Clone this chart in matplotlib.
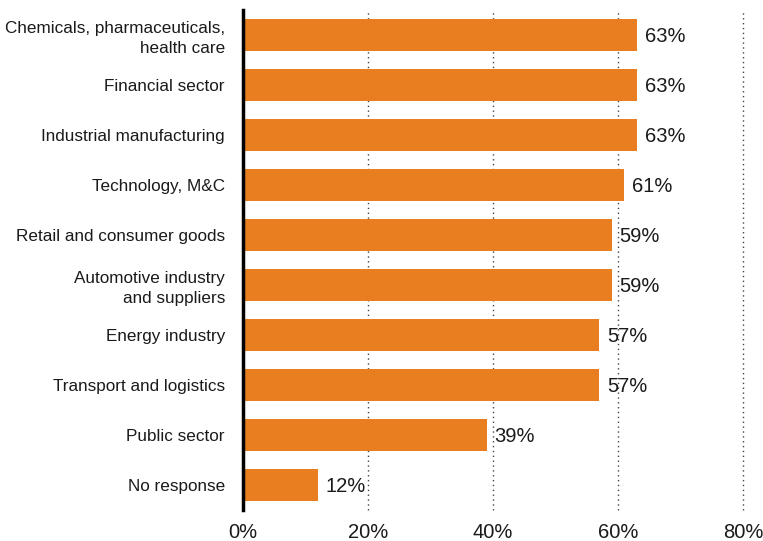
import matplotlib
matplotlib.use("Agg")
import matplotlib.pyplot as plt
from matplotlib.ticker import FuncFormatter

plt.rcParams['font.family'] = ['Liberation Sans', 'DejaVu Sans']

categories = [
    "Chemicals, pharmaceuticals,\nhealth care",
    "Financial sector",
    "Industrial manufacturing",
    "Technology, M&C",
    "Retail and consumer goods",
    "Automotive industry\nand suppliers",
    "Energy industry",
    "Transport and logistics",
    "Public sector",
    "No response",
]
values = [63, 63, 63, 61, 59, 59, 57, 57, 39, 12]
x_ticks = [0, 20, 40, 60, 80]

bar_color = "#E87E1F"
text_color = "#1a1a1a"

fig = plt.figure(figsize=(7.63, 5.41), dpi=100)
ax = fig.add_axes([243 / 763, 1 - 510 / 541, 500 / 763, 500 / 541])

y = list(range(len(categories)))
ax.barh(y, values, height=0.64, color=bar_color, zorder=2)

for yi, v in zip(y, values):
    ax.text(v + 1.25, yi, f"{v}%", va="center_baseline", ha="left",
            fontsize=14.5, color=text_color)

ax.set_ylim(len(categories) - 0.5, -0.5)
ax.set_xlim(0, 80)
ax.set_yticks(y)
ax.set_yticklabels(categories, fontsize=12.3, color=text_color, linespacing=1.35)
ax.set_xticks(x_ticks)
ax.xaxis.set_major_formatter(FuncFormatter(lambda v, p: f"{int(v)}%"))
ax.tick_params(axis="x", length=0, labelsize=14.5, pad=9, colors=text_color)
ax.tick_params(axis="y", length=0, pad=13)

for xt in x_ticks[1:]:
    ax.axvline(xt, color="#444444", linestyle=(0, (1, 2.5)), linewidth=1,
               zorder=1, clip_on=False)

for side in ["top", "right", "bottom"]:
    ax.spines[side].set_visible(False)
ax.spines["left"].set_linewidth(2.5)
ax.spines["left"].set_color("black")
ax.spines["left"].set_zorder(3)

fig.savefig("out.png", dpi=100)
